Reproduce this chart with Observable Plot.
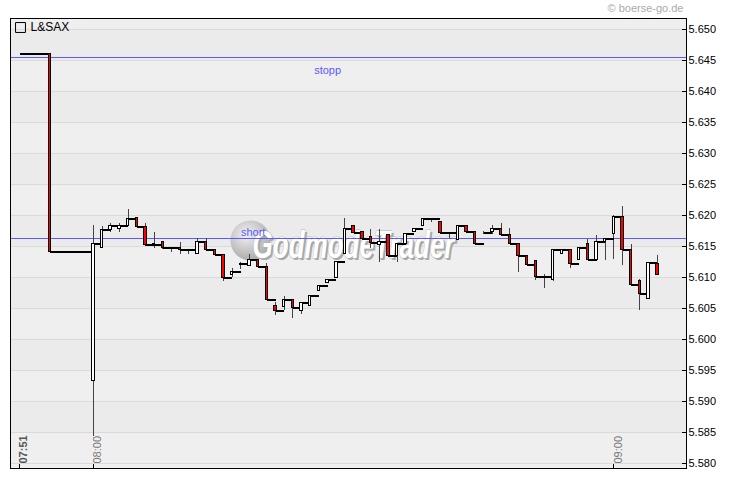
<!DOCTYPE html>
<html><head><meta charset="utf-8">
<script src="https://cdn.jsdelivr.net/npm/d3@7"></script>
<script src="https://cdn.jsdelivr.net/npm/@observablehq/plot@0.6"></script>
<style>
body{margin:0;background:#fff;}
#chart{width:730px;height:481px;}
</style></head><body><div id="chart"></div>
<script>
const seriesName = "L&SAX";
const sourceNote = "© boerse-go.de";
const watermark = "GodmodeTrader";

const times = ["07:51:30","07:55:00",
 "08:00:00","08:01:00","08:02:00","08:03:00","08:04:00","08:05:00","08:06:00","08:07:00","08:08:00","08:09:00",
 "08:10:00","08:11:00","08:12:00","08:13:00","08:14:00","08:15:00","08:16:00","08:17:00","08:18:00","08:19:00",
 "08:20:00","08:21:00","08:22:00","08:23:00","08:24:00","08:25:00","08:26:00","08:27:00","08:28:00","08:29:00",
 "08:30:00","08:31:00","08:32:00","08:33:00","08:34:00","08:35:00","08:36:00","08:37:00","08:38:00","08:39:00",
 "08:40:00","08:41:00","08:42:00","08:43:00","08:44:00","08:45:00","08:46:00","08:47:00","08:48:00","08:49:00",
 "08:50:00","08:51:00","08:52:00","08:53:00","08:54:00","08:55:00","08:56:00","08:57:00","08:58:00","08:59:00",
 "09:00:00","09:01:00","09:02:00","09:03:00","09:04:00","09:05:00"];
const open = [5.6461,5.6461,
 5.5934,5.6147,5.6177,5.6179,5.6183,5.6196,5.6182,5.6154,5.6158,5.6147,
 5.6147,5.6145,5.6138,5.6158,5.6144,5.6137,5.6105,5.6120,5.6119,5.6128,
 5.6117,5.6055,5.6053,5.6064,5.6047,5.6055,5.6078,5.6092,5.6100,5.6138,
 5.6183,5.6174,5.6165,5.6153,5.6169,5.6135,5.6155,5.6173,5.6184,5.6195,
 5.6189,5.6172,5.6161,5.6183,5.6173,5.6172,5.6173,5.6179,5.6169,5.6155,
 5.6135,5.6127,5.6101,5.6097,5.6138,5.6145,5.6129,5.6154,5.6129,5.6158,
 5.6171,5.6197,5.6145,5.6094,5.6065,5.6122];
const high = [5.6461,5.6461,
 5.6184,5.6182,5.6188,5.6188,5.6210,5.6196,5.6188,5.6172,5.6158,5.6147,
 5.6156,5.6145,5.6163,5.6163,5.6144,5.6137,5.6114,5.6125,5.6137,5.6128,
 5.6123,5.6060,5.6070,5.6064,5.6059,5.6070,5.6087,5.6097,5.6125,5.6196,
 5.6183,5.6174,5.6177,5.6177,5.6169,5.6155,5.6170,5.6179,5.6195,5.6195,
 5.6189,5.6172,5.6184,5.6183,5.6173,5.6174,5.6184,5.6188,5.6179,5.6155,
 5.6135,5.6127,5.6105,5.6145,5.6145,5.6145,5.6147,5.6162,5.6168,5.6163,
 5.6200,5.6215,5.6154,5.6097,5.6124,5.6135];
const low = [5.6461,5.6141,
 5.5844,5.6147,5.6172,5.6172,5.6183,5.6182,5.6152,5.6147,5.6145,5.6141,
 5.6137,5.6138,5.6138,5.6144,5.6137,5.6093,5.6100,5.6113,5.6119,5.6117,
 5.6064,5.6039,5.6047,5.6034,5.6040,5.6055,5.6078,5.6092,5.6100,5.6138,
 5.6172,5.6160,5.6147,5.6125,5.6135,5.6125,5.6155,5.6173,5.6184,5.6189,
 5.6172,5.6161,5.6161,5.6173,5.6154,5.6170,5.6170,5.6169,5.6155,5.6109,
 5.6120,5.6095,5.6083,5.6093,5.6138,5.6114,5.6129,5.6129,5.6129,5.6128,
 5.6130,5.6120,5.6088,5.6047,5.6065,5.6105];
const close = [5.6461,5.6141,
 5.6155,5.6177,5.6183,5.6183,5.6195,5.6182,5.6152,5.6152,5.6147,5.6147,
 5.6145,5.6145,5.6158,5.6144,5.6137,5.6100,5.6109,5.6122,5.6128,5.6117,
 5.6064,5.6047,5.6064,5.6051,5.6059,5.6070,5.6087,5.6097,5.6125,5.6179,
 5.6172,5.6163,5.6156,5.6158,5.6135,5.6155,5.6170,5.6179,5.6195,5.6195,
 5.6172,5.6172,5.6184,5.6173,5.6154,5.6172,5.6179,5.6169,5.6155,5.6135,
 5.6120,5.6101,5.6101,5.6145,5.6145,5.6122,5.6147,5.6129,5.6158,5.6163,
 5.6197,5.6145,5.6088,5.6074,5.6124,5.6105];

const levelNames = ["stopp","short"];
const levelValues = [5.6455, 5.6163];
const levelLabelTimes = ["08:27:00","08:18:25"];

const yTicks = [5.580,5.585,5.590,5.595,5.600,5.605,5.610,5.615,5.620,5.625,5.630,5.635,5.640,5.645,5.650];
const xTickTimes = ["07:51:30","08:00:00","09:00:00"];
const xTickLabels = ["07:51","08:00","09:00"];

const T = s => { const [h,m,sec] = s.split(":").map(Number); return new Date(Date.UTC(2024,0,2,h,m,sec)); };
const t = times.map(T);
const idx = d3.range(times.length);
const halfBody = 8500; // ms
const bands = d3.range(yTicks.length - 1).filter(i => i % 2 === 1).map(i => [yTicks[i], yTicks[i+1]]);

const plot = Plot.plot({
  width: 730, height: 481,
  marginLeft: 10, marginTop: 18, marginRight: 44, marginBottom: 13,
  style: {fontFamily: "'Liberation Sans', Arial, sans-serif", background: "white", overflow: "visible"},
  x: {type: "utc", domain: [T("07:50:27"), T("09:08:22")], axis: null},
  y: {domain: [5.57924, 5.65177], axis: null},
  marks: [
    Plot.frame({fill: "#efefef"}),
    Plot.rect(bands, {y1: d => d[0], y2: d => d[1], fill: "#ebebeb"}),
    Plot.ruleY(yTicks, {stroke: "#dadada", strokeWidth: 1, shapeRendering: "crispEdges"}),
    // watermark
    Plot.dot([0], {frameAnchor: "middle", dx: -98, dy: -3, r: 20, fill: "url(#wmGrad)", stroke: "none"}),
    Plot.text([watermark], {frameAnchor: "middle", dx: 7, dy: 4, fontSize: 38, fontWeight: "bold", fontStyle: "italic", fill: "#a8a8a8", text: d => d}),
    Plot.text([watermark], {frameAnchor: "middle", dx: 5, dy: 2, fontSize: 38, fontWeight: "bold", fontStyle: "italic", fill: "white", stroke: "#b4b4b4", strokeWidth: 1, text: d => d}),
    // levels
    Plot.ruleY(levelValues, {stroke: "#5a5aff", strokeWidth: 1, shapeRendering: "crispEdges"}),
    Plot.text([0], {x: i => T(levelLabelTimes[i]), y: i => levelValues[i], text: i => levelNames[i], dy: 13, fill: "#5a5aff", fontSize: 11}),
    Plot.text([1], {x: i => T(levelLabelTimes[i]), y: i => levelValues[i], text: i => levelNames[i], dy: -6, fill: "#5a5aff", fontSize: 11}),
    // wicks
    Plot.ruleX(idx, {x: i => t[i], y1: i => low[i], y2: i => high[i], stroke: "#444", strokeWidth: 1, shapeRendering: "crispEdges"}),
    // close step lines
    Plot.link(idx.slice(0, -1), {x1: i => t[i], x2: i => t[i+1], y1: i => close[i], y2: i => close[i], stroke: "black", strokeWidth: 2, shapeRendering: "crispEdges"}),
    // bodies
    Plot.rect(idx.slice(1), {
      x1: i => new Date(+t[i] - halfBody), x2: i => new Date(+t[i] + halfBody),
      y1: i => open[i], y2: i => close[i],
      fill: i => close[i] >= open[i] ? "white" : "#ff0000", stroke: "black", strokeWidth: 1, shapeRendering: "crispEdges"
    }),
    // right axis
    Plot.ruleY(yTicks, {insetLeft: 672, stroke: "black", shapeRendering: "crispEdges"}),
    Plot.axisY(yTicks, {anchor: "right", tickSize: 0, tickPadding: 2, tickFormat: d => d.toFixed(3), fontSize: 11, fill: "black", label: null}),
    // bottom axis
    Plot.ruleX(xTickTimes, {x: T, insetTop: 446, stroke: "black", shapeRendering: "crispEdges"}),
    Plot.text([0], {x: i => T(xTickTimes[i]), text: i => xTickLabels[i], frameAnchor: "bottom", rotate: -90, textAnchor: "start", dx: 7, dy: -5, fill: "#555", fontWeight: "bold", fontSize: 11}),
    Plot.text([1, 2], {x: i => T(xTickTimes[i]), text: i => xTickLabels[i], frameAnchor: "bottom", rotate: -90, textAnchor: "start", dx: 8, dy: -5, fill: "#777", fontSize: 11}),
    Plot.frame({stroke: "black", shapeRendering: "crispEdges"}),
    // legend & source
    Plot.dot([seriesName], {frameAnchor: "top-left", dx: 10, dy: 9, symbol: "square", r: 5.6, stroke: "black", fill: "none", strokeWidth: 1}),
    Plot.text([seriesName], {frameAnchor: "top-left", dx: 20, dy: 4, textAnchor: "start", lineAnchor: "top", fontSize: 12, fill: "black", text: d => d}),
    Plot.text([sourceNote], {frameAnchor: "top-right", dx: -3, dy: -10.5, textAnchor: "end", lineAnchor: "middle", fontSize: 11, fill: "#aaaaaa", text: d => d})
  ]
});

const svg = d3.select(plot);
const defs = svg.insert("defs", ":first-child");
const g = defs.append("radialGradient").attr("id", "wmGrad").attr("cx", "40%").attr("cy", "35%").attr("r", "70%");
g.append("stop").attr("offset", "0%").attr("stop-color", "#f2f2f2");
g.append("stop").attr("offset", "55%").attr("stop-color", "#c8c8c8");
g.append("stop").attr("offset", "100%").attr("stop-color", "#a8a8a8");
svg.selectAll("text").filter(function(){ return this.textContent === watermark; })
  .attr("textLength", 202).attr("lengthAdjust", "spacingAndGlyphs");

document.getElementById("chart").appendChild(plot);
</script></body></html>
